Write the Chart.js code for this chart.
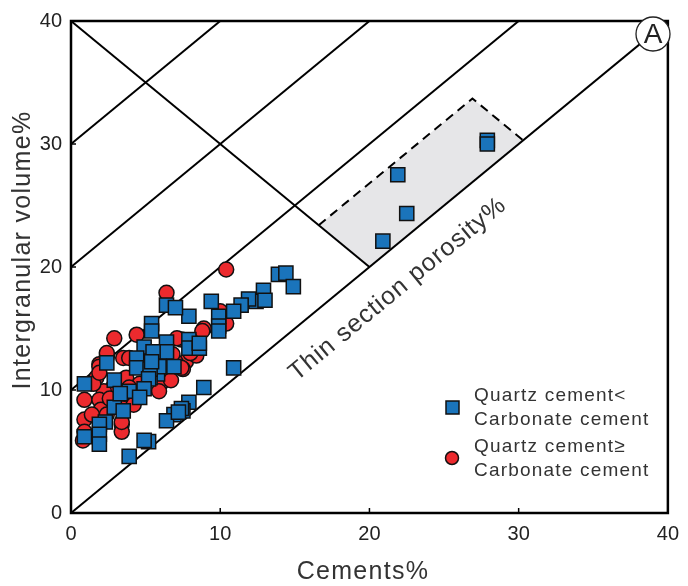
<!DOCTYPE html>
<html lang="en">
<head>
  <meta charset="UTF-8">
  <title>Intergranular volume vs cements</title>
  <script src="https://cdn.jsdelivr.net/npm/chart.js"></script>
  <style>
    html, body { margin: 0; padding: 0; background: #fff; }
    #wrap { width: 688px; height: 586px; }
  </style>
</head>
<body>
  <div id="wrap"><canvas id="plot" width="688" height="586"></canvas></div>

  <script>
    // Quartz cement < carbonate cement (blue squares)
    const quartzLtX = [27.9, 27.9, 21.9, 22.5, 20.9, 13.9, 14.4, 14.9, 12.9, 12.4, 13.0, 11.9, 11.4, 10.9,
      9.9, 9.9, 9.9, 9.4, 7.9, 7.9, 7.9, 8.6, 8.6, 10.9, 8.9, 7.9, 7.5, 7.4, 6.9, 6.4, 7.2, 5.2, 3.9,
      6.4, 7.0, 5.4, 5.4, 4.9, 6.4, 6.4, 5.5, 4.4, 4.4, 2.4, 5.8, 5.3, 6.9, 5.9, 5.3, 5.2, 4.9, 3.9,
      2.9, 0.9, 2.9, 3.5, 2.3, 1.9, 1.9, 1.9, 0.9, 4.9, 4.6, 3.3, 5.4];
    const quartzLtY = [30.3, 30.0, 27.5, 24.35, 22.1, 19.4, 19.5, 18.4, 18.1, 17.2, 17.3, 17.4, 16.9, 16.4,
      16.0, 15.2, 14.8, 17.2, 16.0, 14.1, 13.4, 13.4, 13.8, 11.8, 10.2, 9.0, 8.3, 8.5, 8.0, 7.5, 8.2, 5.8, 4.6,
      16.9, 16.7, 15.4, 14.8, 13.5, 13.9, 13.1, 13.1, 12.6, 11.8, 12.2, 11.3, 11.0, 11.9, 11.9, 11.7, 10.9, 10.1, 9.9,
      10.8, 10.5, 8.6, 8.3, 7.4, 7.2, 6.4, 5.6, 6.2, 5.9, 9.4, 9.7, 12.3];

    // Quartz cement >= carbonate cement (red circles)
    const quartzGeX = [10.4, 6.4, 10.3, 10.0, 10.4, 8.9, 8.8, 2.9, 4.4, 2.4, 1.9, 3.5, 2.4, 1.9, 1.7, 3.9,
      7.7, 7.5, 7.0, 5.6, 5.0, 3.7, 4.6, 6.0, 2.8, 3.9, 2.2, 1.5, 0.9, 0.9, 0.9, 0.8, 1.9, 2.0, 3.4, 3.4,
      3.4, 3.3, 3.6, 1.9, 7.4, 7.1, 7.4, 6.8, 8.4, 2.6, 1.4, 6.7, 5.9, 2.4, 4.2, 8.0];
    const quartzGeY = [19.8, 17.9, 16.1, 16.4, 15.4, 15.0, 14.8, 14.2, 14.5, 12.7, 12.1, 12.6, 13.0, 11.9, 11.0, 12.6,
      12.3, 11.7, 12.3, 12.3, 12.3, 11.0, 10.5, 10.5, 10.2, 10.2, 9.9, 10.5, 9.2, 7.6, 6.6, 5.9, 9.2, 8.4, 7.2, 6.6,
      7.4, 9.0, 9.7, 11.4, 14.1, 14.2, 11.8, 12.9, 12.8, 9.3, 8.0, 10.8, 9.9, 8.0, 8.8, 13.0];

    // reference lines: y = x, y = x + 10, + 20, + 30, and the porosity line y = 40 - x
    const refLines = [
      [[0, 0], [40, 40]],
      [[0, 10], [30, 40]],
      [[0, 20], [20, 40]],
      [[0, 30], [10, 40]],
      [[0, 40], [20, 20]]
    ];
    // shaded field, dashed edges on the open side
    const fieldCorners = [[20, 20], [16.6, 23.4], [26.9, 33.7], [30.3, 30.3]];
    const fieldDashed = [[16.6, 23.4], [26.9, 33.7], [30.3, 30.3]];

    const axisTicks = [0, 10, 20, 30, 40];

    const BLUE = '#1a74bb';
    const RED = '#ec2a2e';
    const INK = '#222';
    const FONT = '"Liberation Sans", Arial, sans-serif';

    const toPts = (xs, ys) => xs.map((x, i) => ({ x: x, y: ys[i] }));

    const datasets = [
      {
        label: 'Quartz cement<Carbonate cement',
        data: toPts(quartzLtX, quartzLtY),
        pointStyle: 'rect', pointRadius: 10, pointHoverRadius: 10,
        backgroundColor: BLUE, borderColor: '#111', borderWidth: 1.5, order: 0
      },
      {
        label: 'Quartz cement≥Carbonate cement',
        data: toPts(quartzGeX, quartzGeY),
        pointStyle: 'circle', pointRadius: 7.5, pointHoverRadius: 7.5,
        backgroundColor: RED, borderColor: '#111', borderWidth: 1.5, order: 1
      },
      {
        label: 'field',
        data: fieldDashed.map(p => ({ x: p[0], y: p[1] })),
        showLine: true, pointRadius: 0, borderColor: '#000', borderWidth: 2,
        borderDash: [9, 6], order: 2
      }
    ];
    refLines.forEach((seg, i) => {
      datasets.push({
        label: 'line' + i,
        data: seg.map(p => ({ x: p[0], y: p[1] })),
        showLine: true, pointRadius: 0, borderColor: '#000', borderWidth: 2, order: 3
      });
    });

    // gray field under everything, frame + inward ticks, texts and legend on top
    const decor = {
      id: 'decor',
      beforeDatasetsDraw(chart) {
        const { ctx, scales: { x, y } } = chart;
        ctx.save();
        ctx.beginPath();
        fieldCorners.forEach((p, i) => {
          const px = x.getPixelForValue(p[0]), py = y.getPixelForValue(p[1]);
          i ? ctx.lineTo(px, py) : ctx.moveTo(px, py);
        });
        ctx.closePath();
        ctx.fillStyle = '#e6e6e8';
        ctx.fill();
        ctx.restore();
      },
      afterDatasetsDraw(chart) {
        const { ctx, chartArea: a, scales: { x, y } } = chart;
        ctx.save();
        ctx.strokeStyle = '#000';
        ctx.lineWidth = 2.5;
        ctx.strokeRect(a.left, a.top, a.right - a.left, a.bottom - a.top);
        ctx.lineWidth = 1.5;
        ctx.beginPath();
        axisTicks.slice(1, -1).forEach(v => {
          const px = x.getPixelForValue(v), py = y.getPixelForValue(v);
          ctx.moveTo(px, a.bottom); ctx.lineTo(px, a.bottom - 5);
          ctx.moveTo(a.left, py); ctx.lineTo(a.left + 5, py);
        });
        ctx.stroke();

        ctx.fillStyle = '#333';
        ctx.letterSpacing = '1px';

        // label along the y = x line
        const cx = x.getPixelForValue(21.9), cy = y.getPixelForValue(18.2);
        const ang = Math.atan2(y.getPixelForValue(10) - y.getPixelForValue(0),
                               x.getPixelForValue(10) - x.getPixelForValue(0));
        ctx.save();
        ctx.translate(cx, cy);
        ctx.rotate(ang);
        ctx.font = '25px ' + FONT;
        ctx.textAlign = 'center';
        ctx.textBaseline = 'middle';
        ctx.fillText('Thin section porosity%', 0, 0);
        ctx.restore();

        // panel letter
        ctx.beginPath();
        ctx.arc(653, 34, 17, 0, Math.PI * 2);
        ctx.fillStyle = '#fff';
        ctx.fill();
        ctx.lineWidth = 1.3;
        ctx.strokeStyle = '#222';
        ctx.stroke();
        ctx.fillStyle = INK;
        ctx.letterSpacing = '0px';
        ctx.font = '28px ' + FONT;
        ctx.textAlign = 'center';
        ctx.textBaseline = 'middle';
        ctx.fillText('A', 653, 35);

        // legend
        ctx.letterSpacing = '1.2px';
        ctx.font = '19px ' + FONT;
        ctx.textAlign = 'left';
        ctx.fillStyle = '#333';
        ctx.fillText('Quartz cement<', 474, 396);
        ctx.fillText('Carbonate cement', 474, 420);
        ctx.fillText('Quartz cement≥', 474, 447);
        ctx.fillText('Carbonate cement', 474, 471);
        ctx.lineWidth = 1.5;
        ctx.strokeStyle = '#111';
        ctx.fillStyle = BLUE;
        ctx.fillRect(446, 401, 13, 13);
        ctx.strokeRect(446, 401, 13, 13);
        ctx.beginPath();
        ctx.arc(452, 458, 6.5, 0, Math.PI * 2);
        ctx.fillStyle = RED;
        ctx.fill();
        ctx.stroke();

        // axis titles
        ctx.fillStyle = '#333';
        ctx.letterSpacing = '1.3px';
        ctx.font = '25px ' + FONT;
        ctx.textAlign = 'center';
        ctx.fillText('Cements%', 363, 572);
        ctx.save();
        ctx.translate(23, 250);
        ctx.rotate(-Math.PI / 2);
        ctx.fillText('Intergranular volume%', 0, 0);
        ctx.restore();
        ctx.restore();
      }
    };

    new Chart(document.getElementById('plot'), {
      type: 'scatter',
      data: { datasets: datasets },
      options: {
        responsive: false,
        animation: false,
        layout: { padding: { top: 17, right: 17, left: 0, bottom: 0 } },
        plugins: { legend: { display: false }, tooltip: { enabled: false } },
        scales: {
          x: {
            type: 'linear', min: 0, max: 40,
            afterFit: s => { s.height = 73; },
            afterBuildTicks: s => { s.ticks = axisTicks.map(v => ({ value: v })); },
            grid: { display: false, drawTicks: false },
            border: { display: false },
            ticks: { padding: 9, color: INK, font: { family: FONT, size: 20 } }
          },
          y: {
            type: 'linear', min: 0, max: 40,
            afterFit: s => { s.width = 71; },
            afterBuildTicks: s => { s.ticks = axisTicks.map(v => ({ value: v })); },
            grid: { display: false, drawTicks: false },
            border: { display: false },
            ticks: { padding: 9, color: INK, font: { family: FONT, size: 20 } }
          }
        }
      },
      plugins: [decor]
    });
  </script>
</body>
</html>
